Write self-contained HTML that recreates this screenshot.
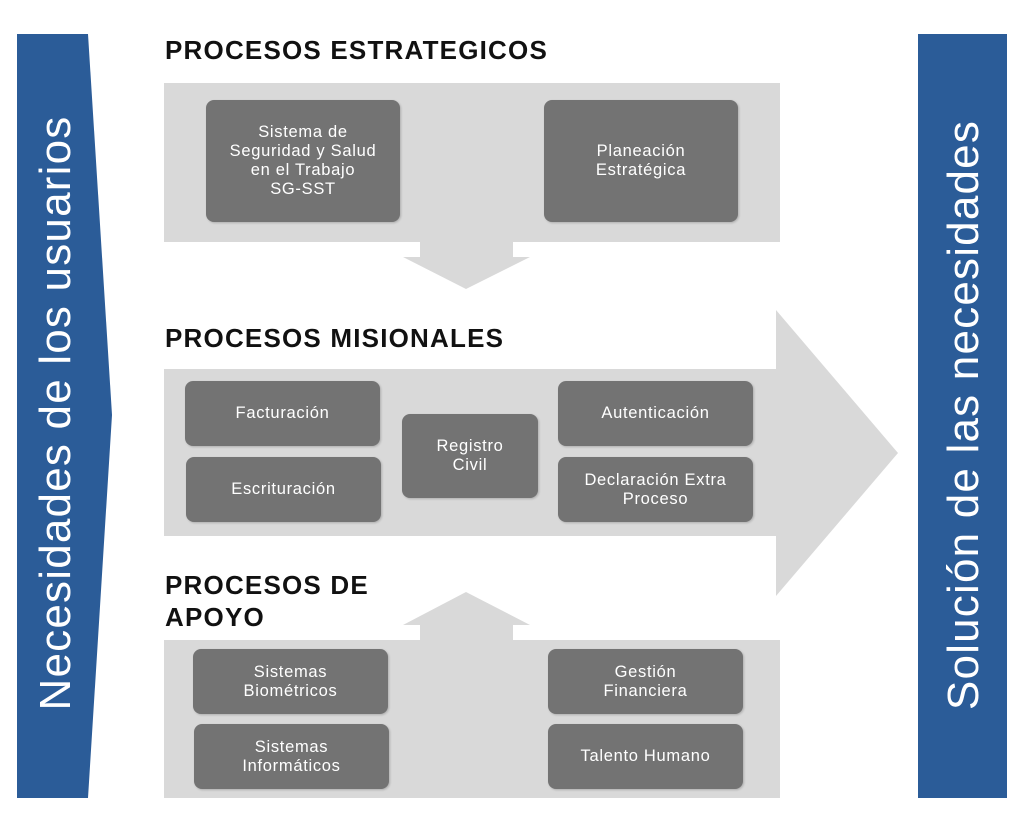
<!DOCTYPE html>
<html><head><meta charset="utf-8"><style>
body{margin:0;width:1024px;height:832px;background:#fff;position:relative;overflow:hidden;font-family:"Liberation Sans",sans-serif}
.b{position:absolute;background:#737373;border-radius:8px;color:#fff;font-size:16.5px;line-height:19px;letter-spacing:.7px;display:flex;align-items:center;justify-content:center;text-align:center;box-shadow:1px 1px 2px rgba(0,0,0,.2)}
.h{position:absolute;left:165px;font-weight:bold;font-size:26px;color:#111;line-height:32px;letter-spacing:1.2px}
.v{position:absolute;color:#fff;font-size:44px;white-space:nowrap;transform:translate(-50%,-50%) rotate(-90deg);letter-spacing:1.2px}
</style></head><body>
<svg width="1024" height="832" style="position:absolute;left:0;top:0">
<polygon points="17,34 88,34 112,415 88,798 17,798" fill="#2b5c98"/>
<rect x="918" y="34" width="89" height="764" fill="#2b5c98"/>
<g fill="#d9d9d9">
<rect x="164" y="83" width="616" height="159"/>
<polygon points="420,242 513,242 513,257 530,257 466,289 403,257 420,257"/>
<polygon points="164,369 776,369 776,310 898,453 776,596 776,536 164,536"/>
<rect x="164" y="640" width="616" height="158"/>
<polygon points="420,640 513,640 513,625 530,625 466,592 403,625 420,625"/>
</g>
</svg>
<div class="v" style="left:56px;top:413px">Necesidades de los usuarios</div>
<div class="v" style="left:964px;top:415px">Solución de las necesidades</div>
<div class="h" style="top:34px">PROCESOS ESTRATEGICOS</div>
<div class="h" style="top:322px">PROCESOS MISIONALES</div>
<div class="h" style="top:569px">PROCESOS DE<br>APOYO</div>
<div class="b" style="left:206px;top:100px;width:194px;height:122px">Sistema de<br>Seguridad y Salud<br>en el Trabajo<br>SG-SST</div>
<div class="b" style="left:544px;top:100px;width:194px;height:122px">Planeación<br>Estratégica</div>
<div class="b" style="left:185px;top:381px;width:195px;height:65px">Facturación</div>
<div class="b" style="left:186px;top:457px;width:195px;height:65px">Escrituración</div>
<div class="b" style="left:402px;top:414px;width:136px;height:84px">Registro<br>Civil</div>
<div class="b" style="left:558px;top:381px;width:195px;height:65px">Autenticación</div>
<div class="b" style="left:558px;top:457px;width:195px;height:65px">Declaración Extra<br>Proceso</div>
<div class="b" style="left:193px;top:649px;width:195px;height:65px">Sistemas<br>Biométricos</div>
<div class="b" style="left:194px;top:724px;width:195px;height:65px">Sistemas<br>Informáticos</div>
<div class="b" style="left:548px;top:649px;width:195px;height:65px">Gestión<br>Financiera</div>
<div class="b" style="left:548px;top:724px;width:195px;height:65px">Talento Humano</div>
</body></html>
